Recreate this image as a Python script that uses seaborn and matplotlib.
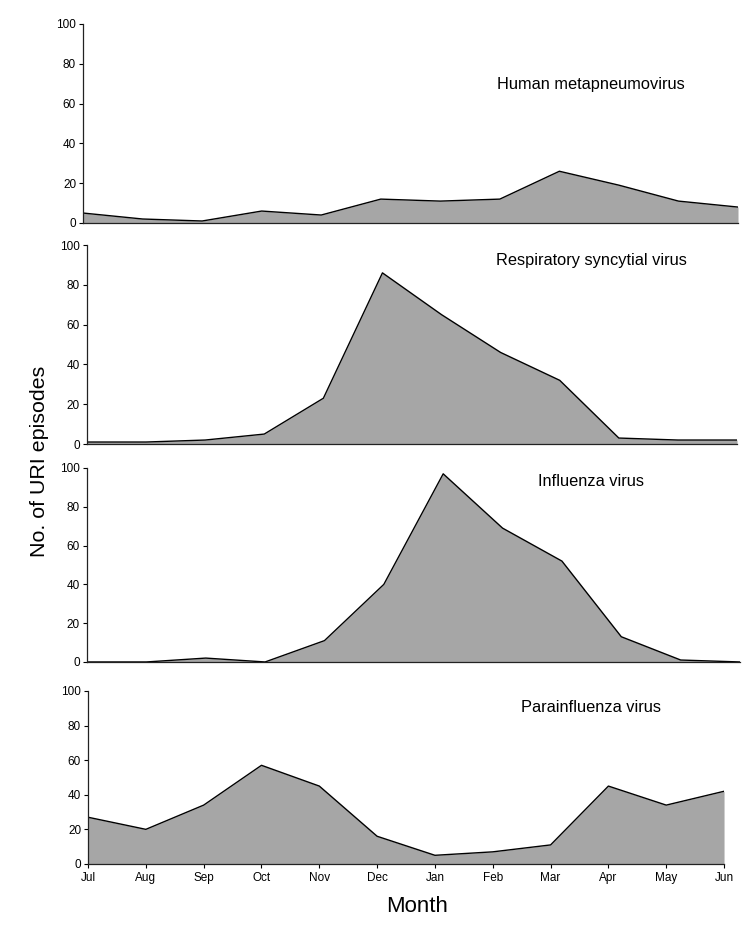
import pandas as pd
import numpy as np
import seaborn as sns
import matplotlib.pyplot as plt

months = ['Jul', 'Aug', 'Sep', 'Oct', 'Nov', 'Dec', 'Jan', 'Feb', 'Mar', 'Apr', 'May', 'Jun']

hmpv = [5, 2, 1, 6, 4, 12, 11, 12, 26, 19, 11, 8]
rsv = [1, 1, 2, 5, 23, 86, 65, 46, 32, 3, 2, 2]
flu = [0, 0, 2, 0, 11, 40, 97, 69, 52, 13, 1, 0]
para = [27, 20, 34, 57, 45, 16, 5, 7, 11, 45, 34, 42]

names = ['Human metapneumovirus', 'Respiratory syncytial virus', 'Influenza virus', 'Parainfluenza virus']
series = [hmpv, rsv, flu, para]

sns.set_style('ticks')
plt.rcParams['font.family'] = ['Liberation Sans', 'DejaVu Sans']
plt.rcParams['text.color'] = 'black'
plt.rcParams['xtick.color'] = 'black'
plt.rcParams['ytick.color'] = 'black'

fig = plt.figure(figsize=(7.55, 9.33), dpi=100)

# panel boxes in figure fraction
boxes = [
    [0.110, 0.761, 0.8675, 0.2133],
    [0.1152, 0.5241, 0.861, 0.2133],
    [0.1152, 0.2905, 0.865, 0.2079],
    [0.1166, 0.074, 0.8424, 0.1855],
]
label_y = [0.909, 0.7213, 0.4837, 0.2412]

x = np.arange(len(months))
for i, (vals, name, box) in enumerate(zip(series, names, boxes)):
    ax = fig.add_axes(box)
    df = pd.DataFrame({'m': x, 'n': vals})
    ax.fill_between(df.m, df.n, 0, color='#a6a6a6', linewidth=0)
    sns.lineplot(data=df, x='m', y='n', ax=ax, color='black', linewidth=1.0)
    ax.set_xlim(0, 11)
    ax.set_ylim(0, 100)
    ax.set_yticks([0, 20, 40, 60, 80, 100])
    ax.tick_params(axis='y', labelsize=8.5, length=3, width=0.8, pad=2)
    ax.set_xlabel('')
    ax.set_ylabel('')
    sns.despine(ax=ax)
    for s in ['left', 'bottom']:
        ax.spines[s].set_linewidth(0.9)
        ax.spines[s].set_color('#222222')
    if i == 3:
        ax.set_xticks(x)
        ax.set_xticklabels(months)
        ax.tick_params(axis='x', labelsize=8.5, length=3, width=0.8, pad=3)
    else:
        ax.set_xticks([])
    fig.text(0.783, label_y[i], name, ha='center', va='center', fontsize=11.8)

fig.text(0.052, 0.506, 'No. of URI episodes', rotation=90, ha='center', va='center', fontsize=15.4)
fig.text(0.552, 0.028, 'Month', ha='center', va='center', fontsize=16)

plt.savefig('out.png', dpi=100)
